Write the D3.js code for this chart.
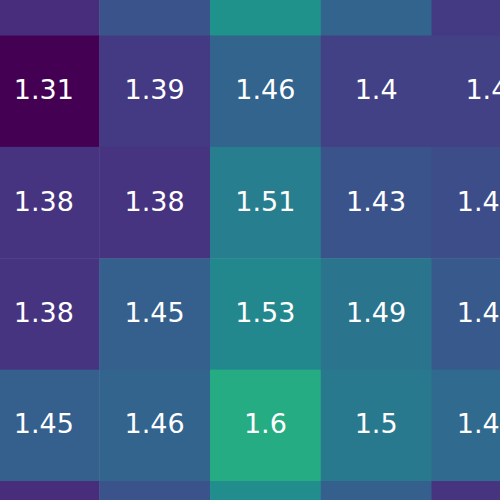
<!DOCTYPE html>
<html>
<head>
<meta charset="utf-8">
<script src="https://cdn.jsdelivr.net/npm/d3@7"></script>
<style>
  html, body { margin: 0; padding: 0; background: #fff; overflow: hidden; }
  .cell-label { font-family: "DejaVu Sans", sans-serif; fill: #fff; }
</style>
</head>
<body>
<div id="heatmap"></div>
<script>
(function() {

var width = 500,
    height = 500;

// columns / rows of the visible window (outer ones are cut by the frame)
var cols = ["c0", "c1", "c2", "c3", "c4"];
var rows = ["r0", "r1", "r2", "r3", "r4", "r5"];

var row0 = [1.37, 1.43, 1.55, 1.46, 1.39];
var row1 = [1.31, 1.39, 1.46, 1.4, 1.4];
var row2 = [1.38, 1.38, 1.51, 1.43, 1.42];
var row3 = [1.38, 1.45, 1.53, 1.49, 1.44];
var row4 = [1.45, 1.46, 1.6, 1.5, 1.47];
var row5 = [1.37, 1.43, 1.54, 1.45, 1.38];

var colorDomain = [1.31, 1.78];

var values = [row0, row1, row2, row3, row4, row5];

var data = [];
values.forEach(function(r, i) {
  r.forEach(function(v, j) {
    data.push({row: rows[i], col: cols[j], value: v});
  });
});

// band ranges run past the frame so the outer cells are only partly seen
var x = d3.scaleBand()
    .domain(cols)
    .range([-11.5, 542.3]);

var y = d3.scaleBand()
    .domain(rows)
    .range([-75.9, 592.4]);

var color = d3.scaleSequential(d3.interpolateViridis)
    .domain(colorDomain);

var svg = d3.select("#heatmap").append("svg")
    .attr("width", width)
    .attr("height", height);

svg.selectAll(".cell")
    .data(data)
  .enter().append("rect")
    .attr("class", "cell")
    .attr("x", function(d) { return x(d.col); })
    .attr("y", function(d) { return y(d.row); })
    .attr("width", x.bandwidth() + 0.5)
    .attr("height", y.bandwidth() + 0.5)
    .style("fill", function(d) { return color(d.value); });

svg.selectAll(".cell-label")
    .data(data)
  .enter().append("text")
    .attr("class", "cell-label")
    .attr("x", function(d) { return x(d.col) + x.bandwidth() / 2; })
    .attr("y", function(d) { return y(d.row) + y.bandwidth() / 2; })
    .attr("text-anchor", "middle")
    .attr("dy", "0.3em")
    .style("font-size", "27px")
    .text(function(d) { return d3.format("")(+d.value.toFixed(2)); });

})()
</script>
</body>
</html>
